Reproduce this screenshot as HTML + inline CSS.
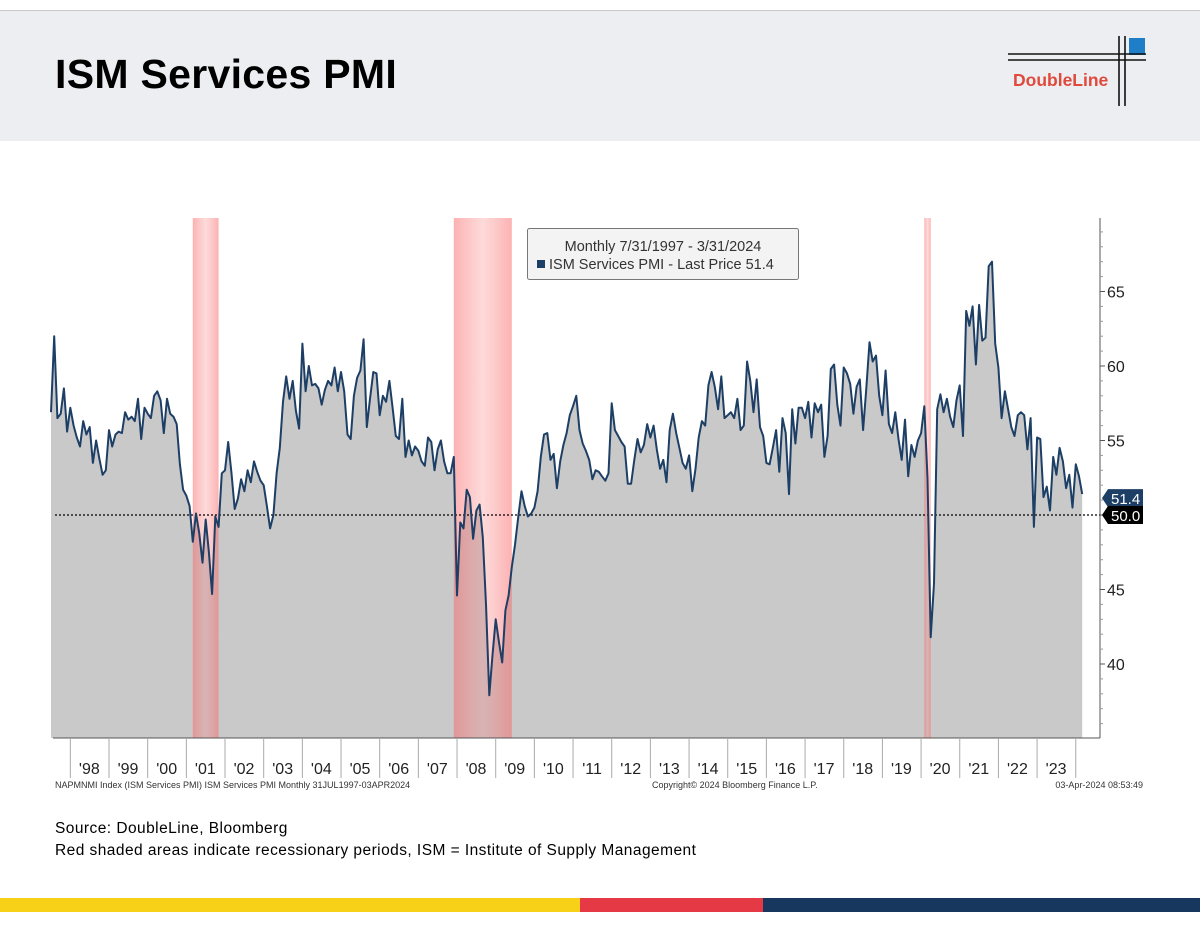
<!DOCTYPE html>
<html><head><meta charset="utf-8"><style>
body{margin:0;width:1200px;height:927px;background:#fff;position:relative;overflow:hidden;font-family:"Liberation Sans",sans-serif}
.hdr{position:absolute;left:0;top:10px;width:1200px;height:130px;background:#eceef2;border-top:1px solid #c8c8c8}
.title{position:absolute;left:55px;top:51px;font-size:41px;font-weight:bold;color:#000;letter-spacing:0.3px}
.src{position:absolute;left:55px;font-size:15.5px;color:#000;letter-spacing:0.45px}
.stripe{position:absolute;top:898px;height:14px}
</style></head><body>
<div class="hdr"></div>
<div class="title">ISM Services PMI</div>
<svg style="position:absolute;left:1000px;top:30px" width="160" height="85">
<rect x="129" y="8" width="16" height="17" fill="#1e7fc8"/>
<line x1="8" y1="24" x2="146" y2="24" stroke="#111" stroke-width="1.6"/>
<line x1="8" y1="30" x2="146" y2="30" stroke="#111" stroke-width="1.6"/>
<line x1="119" y1="6" x2="119" y2="76" stroke="#111" stroke-width="1.6"/>
<line x1="125" y1="6" x2="125" y2="76" stroke="#111" stroke-width="1.6"/>
<text x="13" y="56" font-size="17.5" font-weight="bold" fill="#e04a3c" font-family="Liberation Sans">DoubleLine</text>
</svg>
<svg id="chart" width="1200" height="927" style="position:absolute;left:0;top:0">
<defs><linearGradient id="recg" x1="0" x2="1" y1="0" y2="0">
<stop offset="0" stop-color="rgb(250,100,100)" stop-opacity="0.5"/>
<stop offset="0.5" stop-color="rgb(250,130,130)" stop-opacity="0.3"/>
<stop offset="1" stop-color="rgb(250,100,100)" stop-opacity="0.5"/>
</linearGradient></defs>
</svg>
<div class="src" style="top:820px">Source: DoubleLine, Bloomberg</div>
<div class="src" style="top:842px">Red shaded areas indicate recessionary periods, ISM = Institute of Supply Management</div>
<div class="stripe" style="left:0;width:580px;background:#f7d117"></div>
<div class="stripe" style="left:580px;width:183px;background:#e63946"></div>
<div class="stripe" style="left:763px;width:437px;background:#17375e"></div>
<script>
const values = [
56.9,62.0,56.5,56.8,58.5,55.6,
57.2,56.0,55.2,54.6,56.3,55.4,55.9,53.5,55.0,53.8,52.7,53.0,
55.7,54.6,55.4,55.6,55.5,56.9,56.4,56.6,56.3,57.8,55.1,57.2,
56.8,56.5,58.0,58.3,57.7,55.5,57.8,56.8,56.6,56.1,53.4,51.7,
51.3,50.6,48.2,50.1,48.8,46.8,49.7,47.5,44.7,49.9,49.2,52.8,
53.0,54.9,52.8,50.4,51.1,52.4,51.6,53.0,52.2,53.6,52.9,52.3,
52.0,50.6,49.1,50.0,52.8,54.5,57.6,59.3,57.8,59.0,57.0,55.8,
61.5,58.3,60.0,58.7,58.8,58.5,57.4,58.4,59.0,58.7,59.9,58.3,
59.6,58.3,55.4,55.1,58.0,59.2,59.7,61.8,55.9,57.8,59.6,59.5,
56.7,58.0,57.6,59.0,57.2,55.3,55.1,57.8,53.9,55.0,54.0,54.6,
54.3,53.6,53.3,55.2,54.9,53.0,54.4,55.0,53.6,52.8,52.8,53.9,
44.6,49.5,49.1,51.7,51.2,48.4,50.3,50.7,48.5,44.0,37.9,40.6,
43.0,41.5,40.1,43.6,44.6,46.5,48.0,49.9,51.6,50.6,49.9,50.1,
50.5,51.6,53.9,55.4,55.5,53.7,54.1,51.8,53.6,54.7,55.5,56.7,
57.3,58.0,55.7,54.8,54.3,53.7,52.4,53.0,52.9,52.6,52.3,52.8,
57.5,55.7,55.3,54.9,54.6,52.1,52.1,53.7,55.1,54.2,54.7,56.1,
55.2,56.0,54.4,53.1,53.7,52.2,55.7,56.8,55.5,54.5,53.5,53.1,
54.0,51.6,53.1,55.2,56.3,56.0,58.7,59.6,58.6,57.1,59.3,56.5,
56.7,56.9,56.5,57.8,55.7,56.0,60.3,59.0,56.9,59.1,55.9,55.3,
53.5,53.4,54.5,55.7,52.9,56.5,55.5,51.4,57.1,54.8,57.2,57.2,
56.5,57.6,55.2,57.5,56.9,57.4,53.9,55.3,59.8,60.1,57.4,56.0,
59.9,59.5,58.8,56.8,58.6,59.1,55.7,58.5,61.6,60.3,60.7,58.0,
56.7,59.7,56.1,55.5,56.9,55.1,53.7,56.4,52.6,54.7,53.9,55.0,
55.5,57.3,52.5,41.8,45.4,57.1,58.1,56.9,57.8,56.6,55.9,57.7,
58.7,55.3,63.7,62.7,64.0,60.1,64.1,61.7,61.9,66.7,67.0,61.5,
59.9,56.5,58.3,57.1,55.9,55.3,56.7,56.9,56.7,54.4,56.5,49.2,
55.2,55.1,51.2,51.9,50.3,53.9,52.7,54.5,53.6,51.8,52.7,50.5,
53.4,52.6,51.4];
const yearLabels = ["'98","'99","'00","'01","'02","'03","'04","'05","'06","'07","'08","'09","'10","'11","'12","'13","'14","'15","'16","'17","'18","'19","'20","'21","'22","'23"];
const yTicks = [40,45,50,55,60,65];
const recStart = [44,125,271];
const recEnd = [52,143,273];
const lastValue = 51.4;
const refValue = 50;

const NS="http://www.w3.org/2000/svg", svg=document.getElementById('chart');
const X0=51, MW=38.67/12, Y50=515, PU=14.9, TOP=218, BOT=738, RX=1100;
const x=i=>X0+i*MW, y=v=>Y50-(v-50)*PU;
function mk(t,a,p){const e=document.createElementNS(NS,t);for(const k in a)e.setAttribute(k,a[k]);(p||svg).appendChild(e);return e;}

let d=`M${x(0)},${BOT}`;values.forEach((v,i)=>d+=`L${x(i).toFixed(1)},${y(v).toFixed(1)}`);d+=`L${x(values.length-1)},${BOT}Z`;
const area=mk('path',{d:d,fill:'#c9c9c9'});



recStart.forEach((s,k)=>{
 const r=mk('rect',{x:x(s),y:TOP,width:x(recEnd[k])-x(s),height:BOT-TOP,fill:'url(#recg)'});
 
 
});

const ref=mk('line',{x1:55,x2:RX,y1:y(refValue),y2:y(refValue),stroke:'#000','stroke-dasharray':'2,2','stroke-width':1.2});



let ld='';values.forEach((v,i)=>ld+=(i?'L':'M')+x(i).toFixed(1)+','+y(v).toFixed(1));
const line=mk('path',{d:ld,fill:'none',stroke:'#1d3f66','stroke-width':2,'stroke-linejoin':'round'});



mk('line',{x1:53,x2:RX,y1:BOT,y2:BOT,stroke:'#555'});
mk('line',{x1:RX,x2:RX,y1:TOP,y2:BOT,stroke:'#555'});
yTicks.forEach(v=>{
 mk('line',{x1:RX,x2:RX+5,y1:y(v),y2:y(v),stroke:'#555'});
 const t=mk('text',{x:RX+7,y:y(v)+6,'font-size':16,fill:'#222','font-family':'Liberation Sans'});t.textContent=v;
 
 
});
for(let v=36;v<=69;v++){if(v%5)mk('line',{x1:RX,x2:RX+3,y1:y(v),y2:y(v),stroke:'#999'});}
yearLabels.forEach((lab,k)=>{
 const xs=x(6+12*k);
 mk('line',{x1:xs,x2:xs,y1:BOT,y2:778,stroke:'#aaa'});
 const t=mk('text',{x:xs+19,y:774,'font-size':16,'text-anchor':'middle',fill:'#222','font-family':'Liberation Sans'});t.textContent=lab;
 
 
});
mk('line',{x1:x(6+12*26),x2:x(6+12*26),y1:BOT,y2:778,stroke:'#aaa'});

function tag(v,bg,txt,ty){
 const yy=ty;
 const g=mk('g',{});
 mk('path',{d:`M1102,${yy}L1108,${yy-9}H1143V${yy+9}H1108Z`,fill:bg},g);
 const t=mk('text',{x:1111,y:yy+6,'font-size':15,fill:'#fff','font-family':'Liberation Sans'},g);t.textContent=txt;
 return g;
}
const g1=tag(lastValue,'#1d3f66',lastValue.toFixed(1),y(lastValue)+4);


const g2=tag(refValue,'#000',refValue.toFixed(1),y(refValue));



const lg=mk('g',{});


mk('rect',{x:527.5,y:228.5,width:271,height:51,fill:'#f3f3f3',stroke:'#777',rx:2},lg);
let t=mk('text',{x:663,y:251,'font-size':14.5,'text-anchor':'middle',fill:'#333','font-family':'Liberation Sans'},lg);t.textContent='Monthly 7/31/1997 - 3/31/2024';
mk('rect',{x:537,y:260,width:8,height:8,fill:'#1d3f66'},lg);
t=mk('text',{x:549,y:269,'font-size':14.5,fill:'#333','font-family':'Liberation Sans'},lg);t.textContent='ISM Services PMI - Last Price 51.4';

t=mk('text',{x:55,y:788,'font-size':9,fill:'#333','font-family':'Liberation Sans'});t.textContent='NAPMNMI Index (ISM Services PMI) ISM Services PMI  Monthly 31JUL1997-03APR2024';
t=mk('text',{x:652,y:788,'font-size':9,fill:'#333','font-family':'Liberation Sans'});t.textContent='Copyright© 2024 Bloomberg Finance L.P.';
t=mk('text',{x:1143,y:788,'font-size':9,'text-anchor':'end',fill:'#333','font-family':'Liberation Sans'});t.textContent='03-Apr-2024 08:53:49';
</script>
</body></html>
